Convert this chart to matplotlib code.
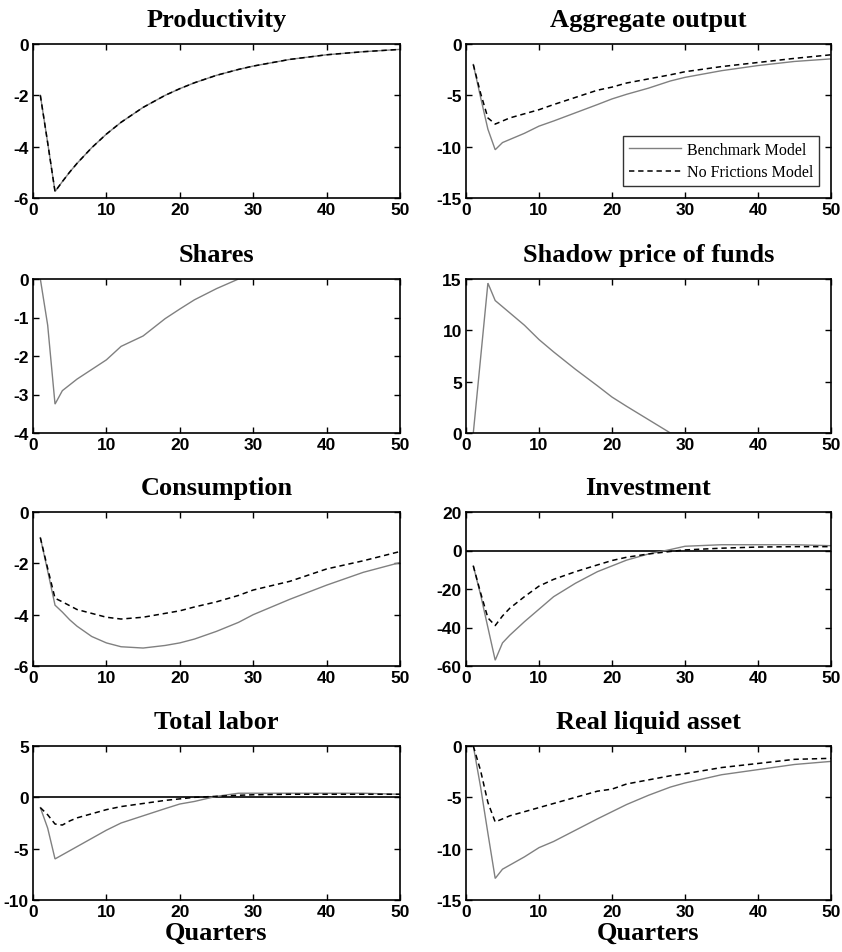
import matplotlib
matplotlib.use("Agg")
import matplotlib.pyplot as plt

plt.rcParams["axes.unicode_minus"] = False

quarters = [1, 2, 3, 4, 5, 6, 8, 10, 12, 15, 18, 20, 22, 25, 28, 30, 35, 40, 45, 50]

productivity_bench = [-2.0, -3.85, -5.75, -5.36, -4.99, -4.65, -4.04, -3.51, -3.05, -2.47,
                      -2.00, -1.74, -1.51, -1.22, -0.99, -0.86, -0.60, -0.42, -0.30, -0.21]
productivity_nofric = productivity_bench

output_bench = [-2.0, -5.2, -8.3, -10.3, -9.6, -9.3, -8.7, -8.0, -7.5, -6.7,
                -5.9, -5.35, -4.9, -4.3, -3.6, -3.25, -2.6, -2.1, -1.7, -1.45]
output_nofric = [-2.0, -4.8, -7.2, -7.8, -7.5, -7.2, -6.8, -6.4, -5.9, -5.2,
                 -4.5, -4.2, -3.8, -3.4, -3.0, -2.7, -2.2, -1.8, -1.4, -1.05]

shares_bench = [0.0, -1.2, -3.25, -2.9, -2.75, -2.6, -2.35, -2.1, -1.75, -1.48,
                -1.03, -0.78, -0.54, -0.25, 0.0, 0.0, 0.0, 0.0, 0.0, 0.0]

shadow_bench = [0.0, 7.3, 14.6, 12.9, 12.3, 11.7, 10.5, 9.1, 7.9, 6.2,
                4.6, 3.5, 2.6, 1.3, 0.0, 0.0, 0.0, 0.0, 0.0, 0.0]

cons_bench = [-1.0, -2.3, -3.63, -3.9, -4.2, -4.45, -4.85, -5.1, -5.25, -5.3,
              -5.2, -5.1, -4.95, -4.65, -4.3, -4.0, -3.4, -2.85, -2.35, -1.97]
cons_nofric = [-1.0, -2.2, -3.36, -3.5, -3.65, -3.8, -3.95, -4.1, -4.17, -4.1,
               -3.95, -3.85, -3.7, -3.5, -3.25, -3.04, -2.7, -2.22, -1.9, -1.54]

inv_bench = [-8.0, -23.0, -40.0, -57.0, -48.0, -44.0, -37.0, -30.5, -24.0, -17.0,
             -11.0, -8.0, -5.0, -1.8, 0.5, 2.2, 3.0, 3.0, 3.0, 2.5]
inv_nofric = [-8.0, -22.0, -35.0, -39.0, -34.0, -30.0, -24.0, -18.5, -15.0, -11.0,
              -7.5, -5.2, -3.5, -1.8, -0.5, 0.3, 1.2, 1.8, 2.0, 2.0]

labor_bench = [-1.0, -3.0, -6.0, -5.6, -5.2, -4.8, -4.0, -3.2, -2.5, -1.8,
               -1.1, -0.65, -0.4, 0.1, 0.4, 0.4, 0.4, 0.4, 0.4, 0.3]
labor_nofric = [-1.0, -1.7, -2.6, -2.7, -2.3, -2.0, -1.6, -1.2, -0.9, -0.6,
                -0.3, -0.15, 0.0, 0.1, 0.2, 0.25, 0.3, 0.3, 0.3, 0.3]

liquid_bench = [0.0, -4.0, -8.5, -12.9, -12.0, -11.6, -10.8, -9.9, -9.3, -8.2,
                -7.1, -6.4, -5.7, -4.8, -4.0, -3.6, -2.8, -2.3, -1.8, -1.5]
liquid_nofric = [0.0, -2.4, -5.5, -7.4, -7.1, -6.8, -6.4, -6.0, -5.6, -5.0,
                 -4.4, -4.2, -3.7, -3.3, -2.9, -2.7, -2.1, -1.7, -1.3, -1.2]

titles = ["Productivity", "Aggregate output", "Shares", "Shadow price of funds",
          "Consumption", "Investment", "Total labor", "Real liquid asset"]
ylims = [(-6, 0), (-15, 0), (-4, 0), (0, 15), (-6, 0), (-60, 20), (-10, 5), (-15, 0)]
yticks = [[-6, -4, -2, 0], [-15, -10, -5, 0], [-4, -3, -2, -1, 0], [0, 5, 10, 15],
          [-6, -4, -2, 0], [-60, -40, -20, 0, 20], [-10, -5, 0, 5], [-15, -10, -5, 0]]
xticks = [0, 10, 20, 30, 40, 50]
legend_labels = ["Benchmark Model", "No Frictions Model"]

series = [
    (productivity_bench, productivity_nofric),
    (output_bench, output_nofric),
    (shares_bench, None),
    (shadow_bench, None),
    (cons_bench, cons_nofric),
    (inv_bench, inv_nofric),
    (labor_bench, labor_nofric),
    (liquid_bench, liquid_nofric),
]

fig = plt.figure(figsize=(8.42, 9.53), dpi=100)
W, H = 842.0, 953.0
col_left = [33, 466]
col_width = [367, 365]
row_top = [45, 280, 513, 747]
ax_h = 154

tick_family = ["Liberation Sans"]
title_font = dict(family="Liberation Serif", weight="bold", size=19)

for i, title in enumerate(titles):
    r, c = divmod(i, 2)
    ax = fig.add_axes([col_left[c] / W, 1 - (row_top[r] + ax_h) / H,
                       col_width[c] / W, ax_h / H])
    bench, nofric = series[i]
    if title in ("Investment", "Total labor"):
        ax.axhline(0, color="black", lw=1.2, zorder=1)
    ax.plot(quarters, bench, color="#808080", lw=1.0, solid_joinstyle="miter",
            label=legend_labels[0], zorder=2)
    if nofric is not None:
        ax.plot(quarters, nofric, color="black", lw=1.1, ls=(0, (3.5, 2.5)),
                label=legend_labels[1], zorder=3)
    ax.set_xlim(0, 50)
    ax.set_ylim(*ylims[i])
    ax.set_xticks(xticks)
    ax.set_yticks(yticks[i])
    ax.tick_params(direction="in", top=True, right=True, length=4, width=1)
    ax.tick_params(axis="x", pad=3)
    ax.tick_params(axis="y", pad=3)
    for lab in ax.get_xticklabels() + ax.get_yticklabels():
        lab.set_fontfamily(tick_family)
        lab.set_fontweight("bold")
        lab.set_fontsize(12.5)
    for sp in ax.spines.values():
        sp.set_linewidth(1.2)
    ax.set_title(title, pad=13, **title_font)
    if r == 3:
        ax.set_xlabel("Quarters", family="Liberation Serif", weight="bold",
                      size=19, labelpad=1)
    if title == "Aggregate output":
        leg = ax.legend(loc="lower right", bbox_to_anchor=(0.967, 0.078),
                        prop=dict(family="Liberation Serif", size=11.5),
                        frameon=True, fancybox=False, edgecolor="black",
                        handlelength=3.3, handletextpad=0.35, borderpad=0.35,
                        labelspacing=0.4, borderaxespad=0)
        leg.get_frame().set_linewidth(1.0)

fig.savefig("out.png", dpi=100)
